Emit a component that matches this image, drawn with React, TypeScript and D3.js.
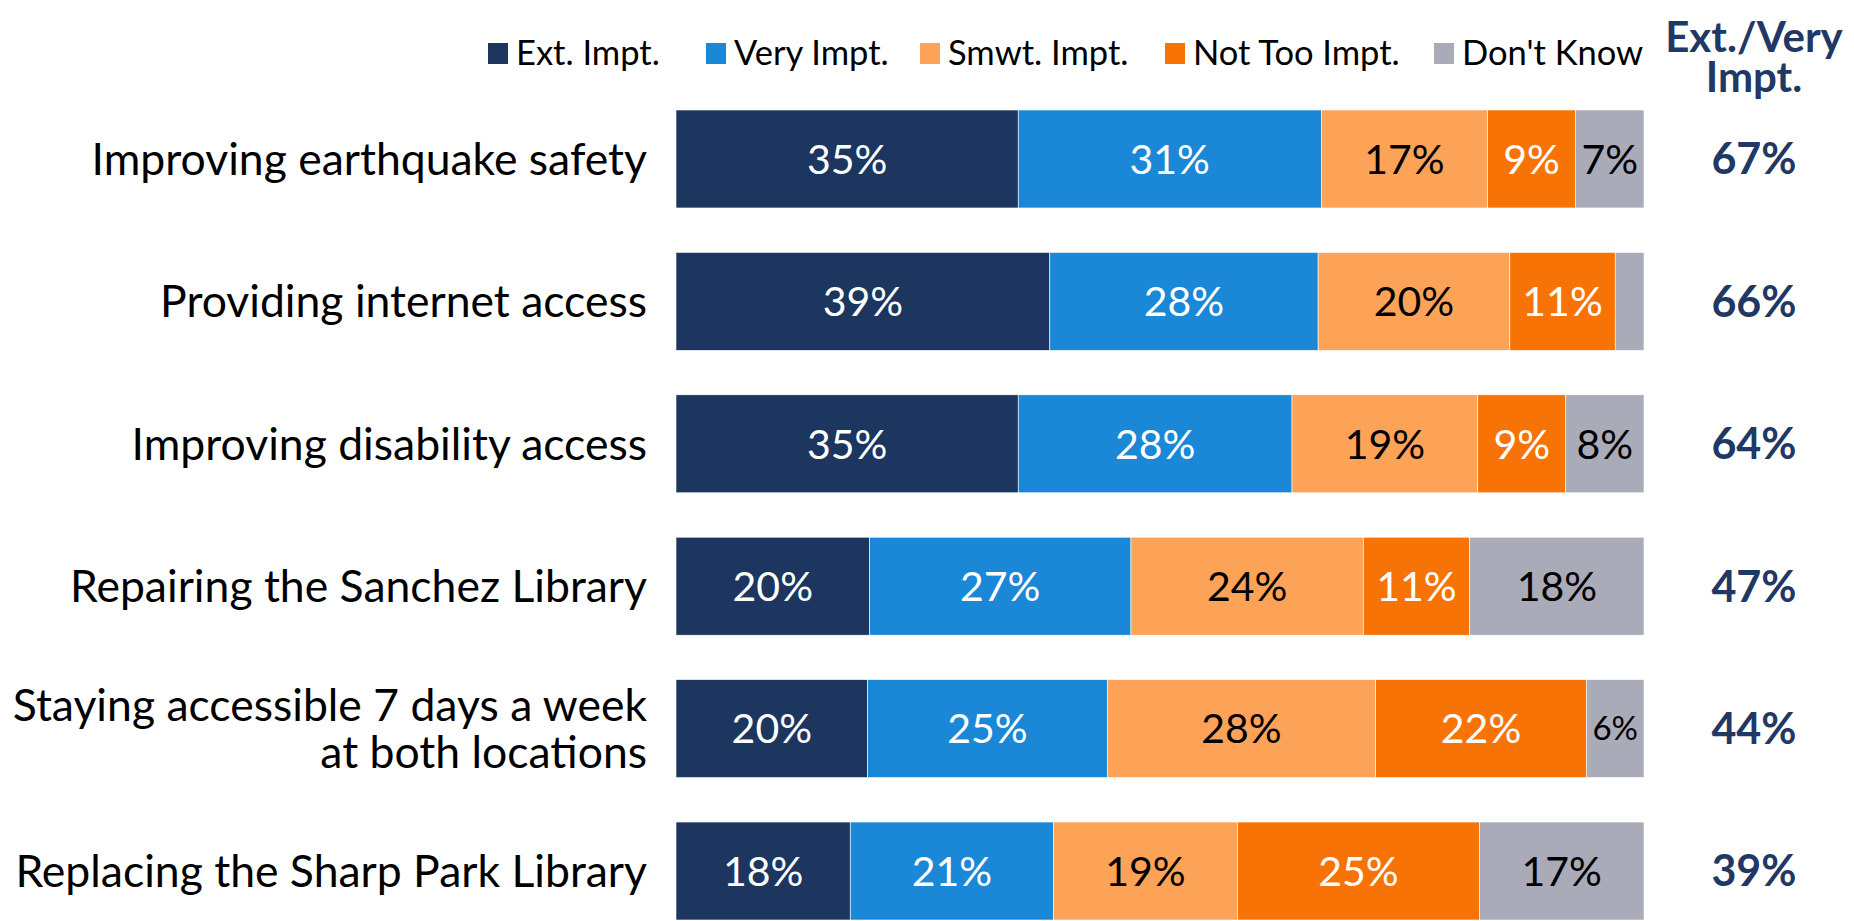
import React from "react";
import * as d3 from "d3";

const categories = [
  ["Improving earthquake safety"],
  ["Providing internet access"],
  ["Improving disability access"],
  ["Repairing the Sanchez Library"],
  ["Staying accessible 7 days a week", "at both locations"],
  ["Replacing the Sharp Park Library"],
];
const seriesNames = ["Ext. Impt.", "Very Impt.", "Smwt. Impt.", "Not Too Impt.", "Don't Know"];
const extImpt = [35, 39, 35, 20, 20, 18];
const veryImpt = [31, 28, 28, 27, 25, 21];
const smwtImpt = [17, 20, 19, 24, 28, 19];
const notTooImpt = [9, 11, 9, 11, 22, 25];
const dontKnow = [7, 3, 8, 18, 6, 17];
const extVeryTotal = [67, 66, 64, 47, 44, 39];

const colors = ["#1C365F", "#1A88D6", "#FDA357", "#F87305", "#A9ABB8"];
const labelColors = ["#FFFFFF", "#FFFFFF", "#000000", "#FFFFFF", "#000000"];
const FONT = "Lato, 'Noto Sans', sans-serif";

export default function App() {
  const W = 1854, H = 921;
  const series = [extImpt, veryImpt, smwtImpt, notTooImpt, dontKnow];
  const rows = categories.map((_, i) => series.map((s) => s[i]));

  const y = d3.scaleBand<number>().domain(d3.range(categories.length)).range([110, 920]).paddingInner(0.312).paddingOuter(0);
  const barLeft = 676, barRight = 1644;

  const legendX = [488, 706, 920, 1165, 1434];

  return (
    <svg width={W} height={H} style={{ position: "absolute", left: 0, top: 0, background: "#fff" }} fontFamily={FONT}>
      {/* legend */}
      {seriesNames.map((n, i) => (
        <g key={n} transform={`translate(${legendX[i]},53)`}>
          <rect x={0} y={-10} width={20} height={21} fill={colors[i]} />
          <text x={28} y={0} dy="0.36em" fontSize={34.5} fill="#000">{n}</text>
        </g>
      ))}
      <text x={1754} y={37} dy="0.36em" textAnchor="middle" fontSize={42} fontWeight={700} fill="#1F3864">Ext./Very</text>
      <text x={1754} y={77} dy="0.36em" textAnchor="middle" fontSize={42} fontWeight={700} fill="#1F3864">Impt.</text>

      {rows.map((vals, r) => {
        const total = d3.sum(vals);
        const x = d3.scaleLinear().domain([0, total]).range([barLeft, barRight]);
        const cum = d3.cumsum(vals);
        const y0 = y(r)!;
        const bh = y.bandwidth();
        const cy = y0 + bh / 2;
        const lines = categories[r];
        return (
          <g key={r}>
            {lines.map((ln, li) => (
              <text key={li} x={647} y={cy + (li - (lines.length - 1) / 2) * 47} dy="0.36em" textAnchor="end" fontSize={44.5} fill="#000">{ln}</text>
            ))}
            {vals.map((v, i) => {
              const xs = x(cum[i] - v), xe = x(cum[i]);
              const w = xe - xs;
              const fs = w < 62 ? 33 : 41;
              return (
                <g key={i}>
                  <rect x={xs} y={y0} width={w} height={bh} fill={colors[i]} stroke="#ffffff" strokeWidth={0.6} />
                  {v >= 5 && (
                    <text x={(xs + xe) / 2} y={cy} dy="0.36em" textAnchor="middle" fontSize={fs} fill={labelColors[i]}>{v}%</text>
                  )}
                </g>
              );
            })}
            <text x={1754} y={cy} dy="0.36em" textAnchor="middle" fontSize={43} fontWeight={700} fill="#1F3864">{extVeryTotal[r]}%</text>
          </g>
        );
      })}
    </svg>
  );
}
